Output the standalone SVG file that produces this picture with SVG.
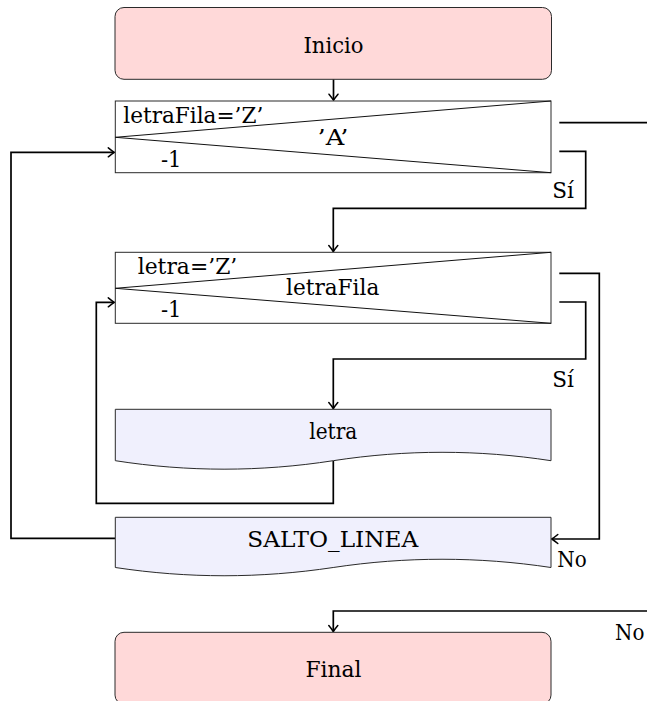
<svg xmlns="http://www.w3.org/2000/svg" width="647" height="701" viewBox="0 0 647 701">
  <style>
    .term { fill: #ffd9d9; stroke: #2a2a2a; stroke-width: 1; }
    .doc { fill: #f0f0fd; stroke: #2a2a2a; stroke-width: 1; }
    .loop { fill: #ffffff; stroke: #2a2a2a; stroke-width: 1; }
    .diag { fill: none; stroke: #111; stroke-width: 1; }
    .conn { fill: none; stroke: #000; stroke-width: 1.7; }
    .arr { marker-end: url(#arrow); }
    .t { font-family: "DejaVu Serif", serif; font-size: 22px; fill: #000; }
    .mid { text-anchor: middle; }
  </style>
  <defs>
    <marker id="arrow" markerUnits="userSpaceOnUse" markerWidth="20" markerHeight="20" viewBox="-10 -10 20 20" refX="0" refY="0" orient="auto" overflow="visible">
      <path d="M-6,-4.5 Q-2,-1.2 0,0 Q-2,1.2 -6,4.5" fill="none" stroke="#000" stroke-width="1.5" stroke-linecap="round" stroke-linejoin="round"/>
    </marker>
  </defs>

  <g id="connectors">
    <path class="conn arr" d="M333.5,79.3 V100.2"/>
    <path class="conn" d="M559.3,122.7 H647"/>
    <path class="conn arr" d="M559.3,151.3 H585.7 V208.3 H333.3 V251.5"/>
    <path class="conn arr" d="M115,538.3 H11 V152.3 H114.3"/>
    <path class="conn arr" d="M559.3,273.3 H599.3 V539 H551.8"/>
    <path class="conn arr" d="M559.3,302 H585.7 V359 H333.3 V408.5"/>
    <path class="conn arr" d="M333.3,461 V503.3 H96.3 V302.3 H114.3"/>
    <path class="conn arr" d="M647,611 H333.3 V631.5"/>
  </g>

  <g id="inicio">
    <rect class="term" x="115" y="7.5" width="436.5" height="71.8" rx="9" ry="9"/>
    <text class="t mid" x="333.5" y="52.5" textLength="60" lengthAdjust="spacingAndGlyphs">Inicio</text>
  </g>

  <g id="loop1">
    <rect class="loop" x="115.3" y="101" width="435.7" height="71.7"/>
    <path class="diag" d="M551,101 L115.3,137.3 L551,172.7"/>
    <text class="t" x="123.3" y="123.3" textLength="140" lengthAdjust="spacingAndGlyphs">letraFila=’Z’</text>
    <text class="t mid" x="333" y="145" textLength="31" lengthAdjust="spacingAndGlyphs">’A’</text>
    <text class="t" x="161" y="166.7" textLength="20.5" lengthAdjust="spacingAndGlyphs">-1</text>
  </g>
  <g id="label-si1"><text class="t" x="552.3" y="198.3" textLength="21.7" lengthAdjust="spacingAndGlyphs">Sí</text></g>

  <g id="loop2">
    <rect class="loop" x="115.3" y="252.3" width="435.7" height="71"/>
    <path class="diag" d="M551,252.3 L115.3,288.3 L551,323.3"/>
    <text class="t" x="137.7" y="274.3" textLength="99.6" lengthAdjust="spacingAndGlyphs">letra=’Z’</text>
    <text class="t" x="286" y="295" textLength="93.3" lengthAdjust="spacingAndGlyphs">letraFila</text>
    <text class="t" x="161" y="316.7" textLength="20.5" lengthAdjust="spacingAndGlyphs">-1</text>
  </g>
  <g id="label-si2"><text class="t" x="552.3" y="386.7" textLength="21.7" lengthAdjust="spacingAndGlyphs">Sí</text></g>

  <g id="letra">
    <path class="doc" d="M115.3,409.3 H551 V460.7 C478,449.5 406,449.5 333.2,460.7 C260,472 188,472 115.3,460.7 Z"/>
    <text class="t mid" x="333.3" y="439.3" textLength="48" lengthAdjust="spacingAndGlyphs">letra</text>
  </g>

  <g id="salto">
    <path class="doc" d="M115.3,517.3 H551 V567.5 C478,556.5 406,556.5 333.2,567.5 C260,578.5 188,578.5 115.3,567.5 Z"/>
    <text class="t mid" x="332.8" y="546.7" textLength="171" lengthAdjust="spacingAndGlyphs">SALTO_LINEA</text>
  </g>
  <g id="label-no1"><text class="t" x="557.3" y="566.7" textLength="29.4" lengthAdjust="spacingAndGlyphs">No</text></g>
  <g id="label-no2"><text class="t" x="615" y="640" textLength="29.4" lengthAdjust="spacingAndGlyphs">No</text></g>

  <g id="final">
    <rect class="term" x="115" y="632.3" width="436" height="71.8" rx="9" ry="9"/>
    <text class="t mid" x="333.5" y="677.3" textLength="56" lengthAdjust="spacingAndGlyphs">Final</text>
  </g>
</svg>
